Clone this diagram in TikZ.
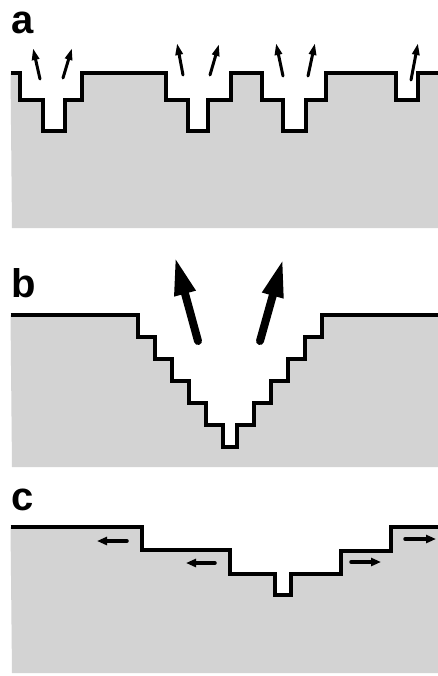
\documentclass[tikz,border=0pt]{standalone}
\usepackage{fontspec}
\setmainfont{Liberation Sans}
\usetikzlibrary{arrows.meta}
\definecolor{panelgray}{RGB}{211,211,211}
\newcommand\grounddraw[2]{\fill[panelgray] #1 |- (12,#2) -- cycle; \draw[profile] #1;}
\begin{document}
\begin{tikzpicture}[x=1pt,y=-1pt,
  profile/.style={line width=4pt,line join=miter,line cap=butt},
  label/.style={font=\fontsize{40}{40}\selectfont\bfseries,inner sep=0pt,anchor=base west},
  smallarrow/.style={line width=3pt,line cap=round,-{Triangle[length=12pt,width=7pt]}},
  bigarrow/.style={line width=8pt,line cap=round,-{Triangle[length=38pt,width=20pt]}},
  flatarrow/.style={line width=3.5pt,line cap=round,-{Triangle[length=10pt,width=8pt]}}]
\useasboundingbox (0,0) rectangle (438,676);
\fill[white] (0,0) rectangle (438,676);
% panel a
\grounddraw{(10.5,73) -- (20,73) -- (20,100) -- (43,100) -- (43,131) -- (65,131) -- (65,100) -- (82,100) -- (82,73) -- (166,73) -- (166,100) -- (188,100) -- (188,131) -- (208,131) -- (208,100) -- (231,100) -- (231,73) -- (262,73) -- (262,100) -- (283,100) -- (283,131) -- (306,131) -- (306,100) -- (326,100) -- (326,73) -- (396,73) -- (396,100) -- (418,100) -- (418,73) -- (438,73)}{228}
\node[label] (la) at (11,34) {a};
\draw[smallarrow] (40,79) -- (33,48);
\draw[smallarrow] (63,78) -- (72,48);
\draw[smallarrow] (183,75) -- (177,43);
\draw[smallarrow] (210,75) -- (219,44);
\draw[smallarrow] (283,76) -- (276,43);
\draw[smallarrow] (308,76) -- (315,43);
\draw[smallarrow] (411,80) -- (418,43);
% panel b
\grounddraw{(10.5,315) -- (138,315) -- (138,337) -- (155,337) -- (155,359) -- (172,359) -- (172,381) -- (189,381) -- (189,403) -- (206,403) -- (206,425) -- (223,425) -- (223,447) -- (237,447) -- (237,425) -- (254,425) -- (254,403) -- (271,403) -- (271,381) -- (288,381) -- (288,359) -- (305,359) -- (305,337) -- (322,337) -- (322,315) -- (438,315)}{467}
\node[label] (lb) at (11,297) {b};
\draw[bigarrow] (198,341) -- (175,257);
\draw[bigarrow] (260,341) -- (283,259);
% panel c
\grounddraw{(10.5,527) -- (142,527) -- (142,550) -- (230,550) -- (230,574) -- (275,574) -- (275,595) -- (291,595) -- (291,574) -- (341,574) -- (341,551) -- (391,551) -- (391,527) -- (438,527)}{673}
\node[label] (lc) at (11,510) {c};
\draw[flatarrow] (127,541) -- (97,541);
\draw[flatarrow] (215,563) -- (186,563);
\draw[flatarrow] (351,562) -- (381,562);
\draw[flatarrow] (405,539) -- (436,539);
\end{tikzpicture}
\end{document}
